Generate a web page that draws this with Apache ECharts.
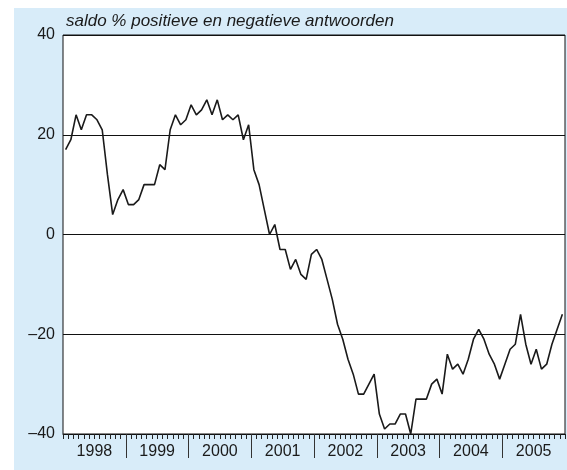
<!DOCTYPE html>
<html>
<head>
<meta charset="utf-8">
<script src="https://cdn.jsdelivr.net/npm/echarts@6/dist/echarts.min.js"></script>
<style>
  html, body { margin: 0; padding: 0; background: #ffffff; }
  #panel { position: absolute; left: 14px; top: 8px; width: 553px; height: 462px; background: #d8ecf9; }
  #chart { position: absolute; left: 0; top: 0; width: 567px; height: 470px; }
</style>
</head>
<body>
<div id="panel"></div>
<div id="chart"></div>
<script>
// Monthly balance (% positive minus % negative answers), Jan 1998 – Dec 2005
const years = ['1998', '1999', '2000', '2001', '2002', '2003', '2004', '2005'];
const v1998 = [17, 19, 24, 21, 24, 24, 23, 21, 12, 4, 7, 9];
const v1999 = [6, 6, 7, 10, 10, 10, 14, 13, 21, 24, 22, 23];
const v2000 = [26, 24, 25, 27, 24, 27, 23, 24, 23, 24, 19, 22];
const v2001 = [13, 10, 5, 0, 2, -3, -3, -7, -5, -8, -9, -4];
const v2002 = [-3, -5, -9, -13, -18, -21, -25, -28, -32, -32, -30, -28];
const v2003 = [-36, -39, -38, -38, -36, -36, -40, -33, -33, -33, -30, -29];
const v2004 = [-32, -24, -27, -26, -28, -25, -21, -19, -21, -24, -26, -29];
const v2005 = [-26, -23, -22, -16, -22, -26, -23, -27, -26, -22, -19, -16];
const yTicks = [-40, -20, 0, 20, 40];
const subtitle = 'saldo % positieve en negatieve antwoorden';

const values = [].concat(v1998, v1999, v2000, v2001, v2002, v2003, v2004, v2005);
const months = [];
years.forEach(y => { for (let m = 1; m <= 12; m++) months.push(y + '-' + m); });

// year boundaries and mid-year label positions on the month scale
const yearBounds = years.slice(1).map((_, i) => (i + 1) * 12);
const yearMids = years.map((_, i) => i * 12 + 6);

const font = '"Liberation Sans", Arial, Helvetica, sans-serif';
const chart = echarts.init(document.getElementById('chart'), null, { renderer: 'canvas' });
chart.setOption({
  backgroundColor: 'transparent',
  animation: false,
  grid: {
    left: 63, top: 35, right: 2, bottom: 36,
    show: true, backgroundColor: '#ffffff', borderColor: '#111111', borderWidth: 1
  },
  graphic: [{
    type: 'text', left: 66, top: 13,
    style: { text: subtitle, font: 'italic 17px ' + font, fill: '#1a1a1a' }
  }],
  xAxis: [{
    type: 'category', data: months, boundaryGap: true,
    axisLine: { show: true, onZero: false, lineStyle: { color: '#111111', width: 1 } },
    axisTick: { show: true, interval: 0, length: 5, lineStyle: { color: '#222222', width: 1 } },
    axisLabel: { show: false }, splitLine: { show: false }
  }, {
    type: 'value', min: 0, max: 96, position: 'bottom',
    axisLine: { show: false, onZero: false },
    axisTick: { show: true, customValues: yearBounds, length: 24, lineStyle: { color: '#333333', width: 1 } },
    axisLabel: {
      show: true, customValues: yearMids, margin: 10,
      fontSize: 16, fontFamily: font, color: '#1a1a1a',
      formatter: v => years[Math.round((v - 6) / 12)]
    },
    splitLine: { show: false }
  }],
  yAxis: {
    type: 'value', min: yTicks[0], max: yTicks[yTicks.length - 1], interval: 20,
    axisLine: { show: false }, axisTick: { show: false },
    axisLabel: {
      fontSize: 16, fontFamily: font, color: '#1a1a1a', margin: 8,
      formatter: v => String(v).replace('-', '\u2013')
    },
    splitLine: { show: true, lineStyle: { color: '#111111', width: 1 } }
  },
  series: [{
    type: 'line', xAxisIndex: 0, data: values, symbol: 'none',
    lineStyle: { color: '#1a1a1a', width: 1.6 }
  }]
});
</script>
</body>
</html>
